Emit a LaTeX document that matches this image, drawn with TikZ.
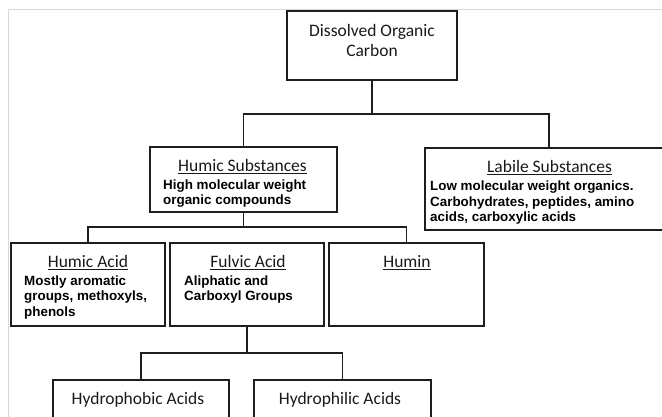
\documentclass[tikz,border=0pt]{standalone}
\usepackage{fontspec}
\newfontfamily\ttlfont{Carlito}
\newfontfamily\txtfont{Liberation Sans}
\tikzset{
	box/.style={draw=linecol, line width=1.4pt, inner sep=0pt, rectangle},
	link/.style={draw=linecol, line width=1.4pt},
	ttl/.style={font=\ttlfont\fontsize{17.5}{20}\selectfont, text=black!90, inner sep=0pt, anchor=base, align=center},
	txt/.style={font=\txtfont\bfseries\fontsize{13.4}{15.7}\selectfont, inner sep=0pt, anchor=base west, align=left}
}
\begin{document}
\begin{tikzpicture}[x=1pt,y=-1pt]
	\definecolor{linecol}{RGB}{30,30,30}
	\definecolor{framecol}{RGB}{215,215,215}
	\useasboundingbox (0,0) rectangle (662,417);
	\clip (0,0) rectangle (662,417);
	\draw[framecol, line width=0.8pt] (8,417) -- (8,9) -- (662,9);
	\node (doc) at (372,45.5) [box, minimum width=170, minimum height=69] {};
	\node (hs) at (243.5,179.5) [box, minimum width=187, minimum height=65] {};
	\node (lab) at (549,189) [box, minimum width=248, minimum height=82] {};
	\node (ha) at (88,284.5) [box, minimum width=154, minimum height=83] {};
	\node (fa) at (247,284.5) [box, minimum width=154, minimum height=83] {};
	\node (hu) at (406.5,284.5) [box, minimum width=155, minimum height=83] {};
	\node (hpo) at (141,410) [box, minimum width=176, minimum height=60] {};
	\node (hpi) at (342.5,410) [box, minimum width=177, minimum height=60] {};
	\node (docT) at (372,57) [ttl] {Dissolved Organic\\Carbon};
	\node (hsT) at (242.5,172) [ttl] {\underline{Humic Substances}};
	\node (hsX) at (163,205) [txt] {High molecular weight\\organic compounds};
	\node (labT) at (549.5,173) [ttl] {\underline{Labile Substances}};
	\node (labX) at (430,222) [txt] {Low molecular weight organics.\\Carbohydrates, peptides, amino\\acids, carboxylic acids};
	\node (haT) at (88,268) [ttl] {\underline{Humic Acid}};
	\node (haX) at (24,316.5) [txt] {Mostly aromatic\\groups, methoxyls,\\phenols};
	\node (faT) at (248,268) [ttl] {\underline{Fulvic Acid}};
	\node (faX) at (184,300.7) [txt] {Aliphatic and\\Carboxyl Groups};
	\node (huT) at (407,268) [ttl] {\underline{Humin}};
	\node (hpoT) at (138,404) [ttl] {Hydrophobic Acids};
	\node (hpiT) at (340,404) [ttl] {Hydrophilic Acids};
	\coordinate (j1) at (372,114);
	\coordinate (j2) at (243.5,227);
	\coordinate (j3) at (247,353);
	\draw[link] (doc.south) -- (j1) -| (hs.north);
	\draw[link] (j1) -| (lab.north);
	\draw[link] (hs.south) -- (j2) -| (ha.north);
	\draw[link] (j2) -| (hu.north);
	\draw[link] (fa.south) -- (j3) -| (hpo.north);
	\draw[link] (j3) -| (hpi.north);
\end{tikzpicture}
\end{document}
